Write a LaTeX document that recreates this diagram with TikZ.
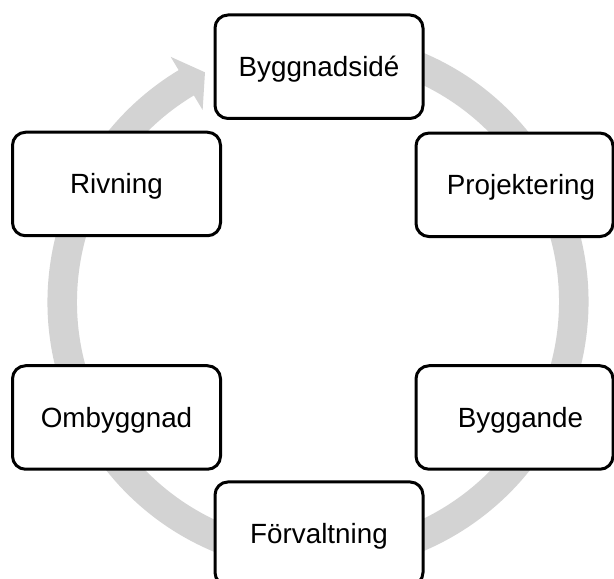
\documentclass[tikz,border=0pt]{standalone}
\usepackage{fontspec}
\setmainfont{Liberation Sans}
\definecolor{ringgray}{RGB}{211,211,211}
\tikzset{
  stagebox/.style={draw=black, line width=3pt, rounded corners=13pt, fill=white,
    inner sep=0pt, minimum height=103.5pt},
  widebox/.style={stagebox, minimum width=208pt},
  narrowbox/.style={stagebox, minimum width=197pt},
  stagelabel/.style={inner sep=0pt, text height=20pt, text depth=0pt,
    font=\fontsize{27.8}{33}\selectfont}
}
\begin{document}
\begin{tikzpicture}[x=1pt, y=1pt]
  \clip (0,0) rectangle (614,579);
  % circular arrow running clockwise behind the stages
  \begin{scope}[shift={(318,277)}]
    \fill[ringgray] (80:270.5) arc[start angle=80, end angle=-239, radius=270.5]
      -- (121:286) -- (116.2:256) -- (121:224) -- (121:241)
      arc[start angle=-239, end angle=80, radius=241] -- cycle;
  \end{scope}
  % stage boxes
  \node[widebox]   (idea)   at (319,512.25) {};
  \node[narrowbox] (proj)   at (514.5,394.2) {};
  \node[narrowbox] (bygg)   at (514.5,161.5) {};
  \node[widebox]   (forv)   at (319,45.3) {};
  \node[widebox]   (omb)    at (116.5,161.5) {};
  \node[widebox]   (riv)    at (116.5,395) {};
  % stage names
  \node[stagelabel] (ideaT) at (idea.center) {Byggnadsidé};
  \node[stagelabel] (projT) at ([xshift=6.5pt]proj.center) {Projektering};
  \node[stagelabel] (byggT) at ([xshift=6pt]bygg.center) {Byggande};
  \node[stagelabel] (forvT) at (forv.center) {Förvaltning};
  \node[stagelabel] (ombT)  at (omb.center) {Ombyggnad};
  \node[stagelabel] (rivT)  at (riv.center) {Rivning};
\end{tikzpicture}
\end{document}
